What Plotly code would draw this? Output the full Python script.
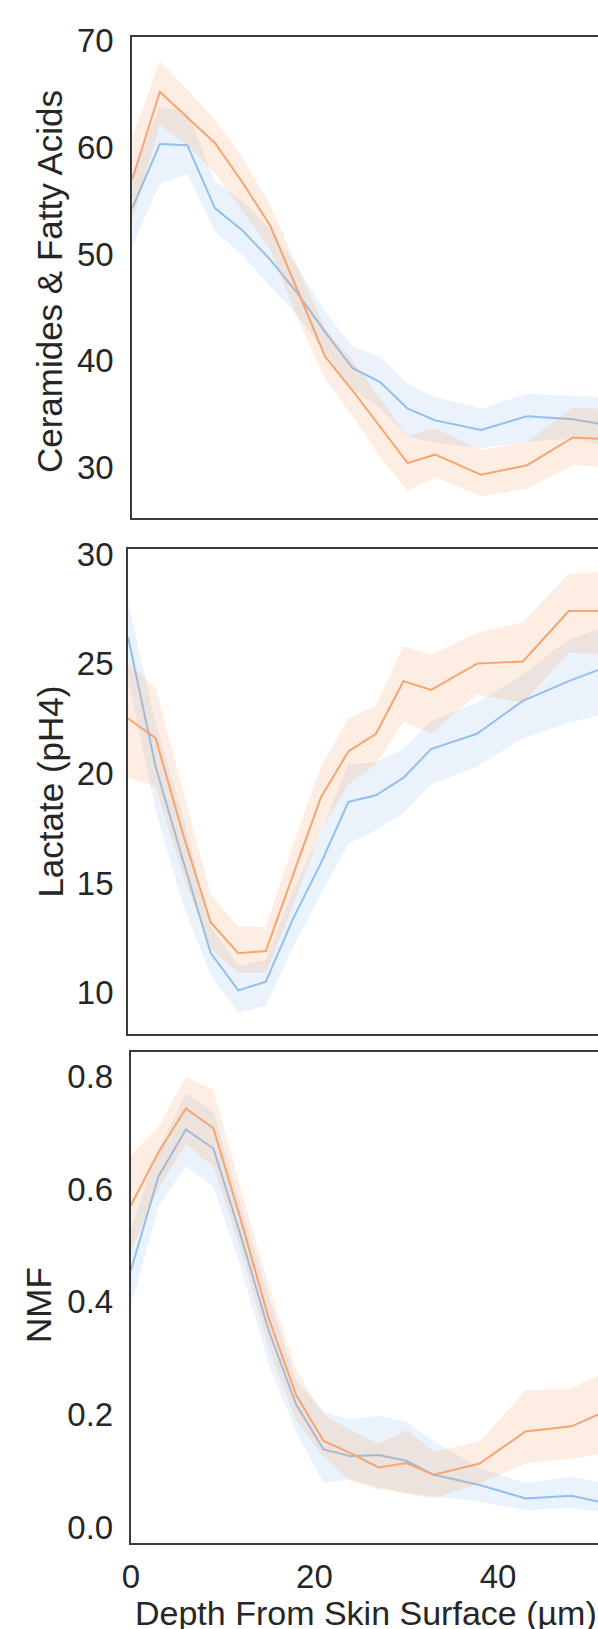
import plotly.graph_objects as go

# ---------------- data ----------------
depth = [0, 3, 6, 9, 12, 15, 18, 21, 24, 27, 30, 33, 38, 43, 48, 53]

cer_blue = [54.3, 60.3, 60.2, 54.3, 52.2, 49.5, 46.3, 42.7, 39.3, 38.0, 35.5, 34.4, 33.5, 34.8, 34.5, 33.8]
cer_blue_lo = [50.7, 56.6, 57.5, 52.1, 49.9, 47.0, 44.2, 40.8, 37.4, 35.5, 32.9, 32.3, 31.8, 32.4, 32.7, 31.7]
cer_blue_hi = [57.6, 63.8, 63.3, 56.8, 55.0, 52.3, 48.8, 44.6, 41.3, 40.4, 37.8, 36.6, 35.5, 36.9, 36.7, 36.5]
cer_orange = [57.0, 65.2, 62.8, 60.4, 56.7, 52.7, 46.6, 40.4, 37.2, 33.8, 30.4, 31.2, 29.3, 30.2, 32.8, 32.6]
cer_orange_lo = [53.2, 62.1, 60.2, 57.6, 54.0, 50.5, 44.0, 38.2, 34.8, 31.0, 27.8, 29.1, 27.3, 28.0, 30.2, 30.0]
cer_orange_hi = [61.0, 68.1, 65.4, 62.6, 59.0, 54.6, 48.8, 43.0, 40.0, 36.5, 32.9, 33.7, 31.6, 32.4, 35.6, 35.4]

lac_blue = [26.2, 20.3, 16.0, 11.8, 10.1, 10.5, 13.4, 15.9, 18.7, 19.0, 19.8, 21.1, 21.8, 23.3, 24.2, 25.0]
lac_blue_lo = [24.3, 18.3, 14.0, 10.8, 9.1, 9.4, 12.1, 14.5, 16.8, 17.4, 18.2, 19.5, 20.3, 21.6, 22.3, 22.8]
lac_blue_hi = [27.8, 22.3, 18.0, 13.0, 11.2, 11.5, 14.7, 17.3, 20.4, 20.5, 21.1, 22.4, 23.2, 24.5, 26.1, 26.8]
lac_orange = [22.5, 21.6, 17.2, 13.2, 11.8, 11.9, 15.4, 18.9, 21.0, 21.8, 24.2, 23.8, 25.0, 25.1, 27.4, 27.4]
lac_orange_lo = [19.8, 19.4, 15.3, 12.0, 10.9, 10.9, 14.0, 17.4, 19.5, 20.4, 22.35, 21.8, 23.6, 23.2, 25.5, 25.4]
lac_orange_hi = [25.0, 23.9, 19.2, 14.5, 13.0, 13.0, 16.8, 20.3, 22.5, 23.1, 25.8, 25.4, 26.4, 26.9, 29.1, 29.2]

nmf_blue = [0.455, 0.622, 0.706, 0.672, 0.516, 0.350, 0.218, 0.138, 0.126, 0.128, 0.118, 0.093, 0.075, 0.051, 0.056, 0.038]
nmf_blue_lo = [0.39, 0.569, 0.641, 0.604, 0.46, 0.29, 0.17, 0.079, 0.085, 0.071, 0.061, 0.055, 0.045, 0.030, 0.034, 0.024]
nmf_blue_hi = [0.53, 0.67, 0.77, 0.737, 0.57, 0.41, 0.26, 0.205, 0.191, 0.198, 0.187, 0.152, 0.105, 0.078, 0.090, 0.072]
nmf_orange = [0.571, 0.665, 0.743, 0.708, 0.545, 0.372, 0.235, 0.153, 0.131, 0.106, 0.114, 0.093, 0.113, 0.170, 0.179, 0.215]
nmf_orange_lo = [0.49, 0.60, 0.68, 0.64, 0.49, 0.32, 0.19, 0.125, 0.081, 0.068, 0.06, 0.051, 0.078, 0.113, 0.122, 0.135]
nmf_orange_hi = [0.66, 0.71, 0.80, 0.776, 0.60, 0.43, 0.28, 0.20, 0.171, 0.148, 0.172, 0.134, 0.152, 0.243, 0.246, 0.285]

y_titles = ["Ceramides & Fatty Acids", "Lactate (pH4)", "NMF"]
x_title = "Depth From Skin Surface (µm)"

# ---------------- styling ----------------
W, H = 598, 1629
FONT = "Liberation Sans, Arial, sans-serif"
TXT = "#262626"
AX = "#3a3a3a"
BLUE = "#94bfec"
ORANGE = "#f7a56f"
BLUE_F = "rgba(148,191,236,0.2)"
ORANGE_F = "rgba(247,165,111,0.2)"
TICK_SIZE = 33

def py(p):
    return 1 - p / H

panels = [
    dict(series=[(cer_blue, cer_blue_lo, cer_blue_hi), (cer_orange, cer_orange_lo, cer_orange_hi)],
         left=132.3, top=37.2, bottom=517.6, yr=[25.29, 70.32], ticks=[30, 40, 50, 60, 70], fmt="d",
         title_x=49.6, title_y=281.5, ticklen=10),
    dict(series=[(lac_blue, lac_blue_lo, lac_blue_hi), (lac_orange, lac_orange_lo, lac_orange_hi)],
         left=128.1, top=548.9, bottom=1034.1, yr=[8.11, 30.23], ticks=[10, 15, 20, 25, 30], fmt="d",
         title_x=49.6, title_y=792, ticklen=6),
    dict(series=[(nmf_blue, nmf_blue_lo, nmf_blue_hi), (nmf_orange, nmf_orange_lo, nmf_orange_hi)],
         left=130.8, top=1052.4, bottom=1542.6, yr=[-0.0273, 0.8426], ticks=[0, 0.2, 0.4, 0.6, 0.8], fmt=".1f",
         title_x=38.0, title_y=1305, ticklen=9),
]

fig = go.Figure()
layout = dict(width=W, height=H, margin=dict(l=0, r=0, t=0, b=0, autoexpand=False),
              paper_bgcolor="white", plot_bgcolor="white", showlegend=False,
              font=dict(family=FONT, color=TXT, size=TICK_SIZE))
annotations = []
colors = [(BLUE, BLUE_F), (ORANGE, ORANGE_F)]

for i, p in enumerate(panels):
    n = i + 1
    xa = "x" if n == 1 else f"x{n}"
    ya = "y" if n == 1 else f"y{n}"
    for (mid, lo, hi), (lc, fc) in zip(p["series"], colors):
        fig.add_trace(go.Scatter(x=depth + depth[::-1], y=hi + lo[::-1], fill="toself",
                                 fillcolor=fc, line=dict(width=0), mode="lines",
                                 hoverinfo="skip", xaxis=xa, yaxis=ya))
        fig.add_trace(go.Scatter(x=depth, y=mid, mode="lines", line=dict(color=lc, width=2),
                                 xaxis=xa, yaxis=ya))
    xend = (W - p["left"]) / 9.18
    bottom_panel = (n == 3)
    layout["xaxis" if n == 1 else f"xaxis{n}"] = dict(
        domain=[p["left"] / W, 1], range=[0, xend], anchor=ya, automargin=False,
        showline=True, mirror=True, linecolor=AX, linewidth=2,
        showgrid=False, zeroline=False,
        showticklabels=bottom_panel, tickvals=[0, 20, 40, 60],
        ticks="outside" if bottom_panel else "", ticklen=4, tickcolor="rgba(0,0,0,0)",
        tickfont=dict(size=TICK_SIZE, color=TXT, family=FONT))
    layout["yaxis" if n == 1 else f"yaxis{n}"] = dict(
        domain=[py(p["bottom"]), py(p["top"])], range=p["yr"], anchor=xa, automargin=False,
        showline=True, mirror=False, linecolor=AX, linewidth=2,
        showgrid=False, zeroline=False, tickvals=p["ticks"], tickformat=p["fmt"],
        ticks="outside", ticklen=p["ticklen"], tickcolor="rgba(0,0,0,0)",
        tickfont=dict(size=TICK_SIZE, color=TXT, family=FONT))
    annotations.append(dict(text=y_titles[i], x=p["title_x"] / W, y=py(p["title_y"]),
                            xref="paper", yref="paper", xanchor="center", yanchor="middle",
                            textangle=-90, showarrow=False,
                            font=dict(size=35, color=TXT, family=FONT)))

annotations.append(dict(text=x_title, x=133.0 / W, y=py(1613), xref="paper", yref="paper",
                        xanchor="left", yanchor="middle", showarrow=False,
                        font=dict(size=34, color=TXT, family=FONT)))
layout["annotations"] = annotations
fig.update_layout(**layout)
fig.write_html("out.html", config={"displayModeBar": False},
               post_script="document.body.style.margin='0';document.body.style.overflow='hidden';")
